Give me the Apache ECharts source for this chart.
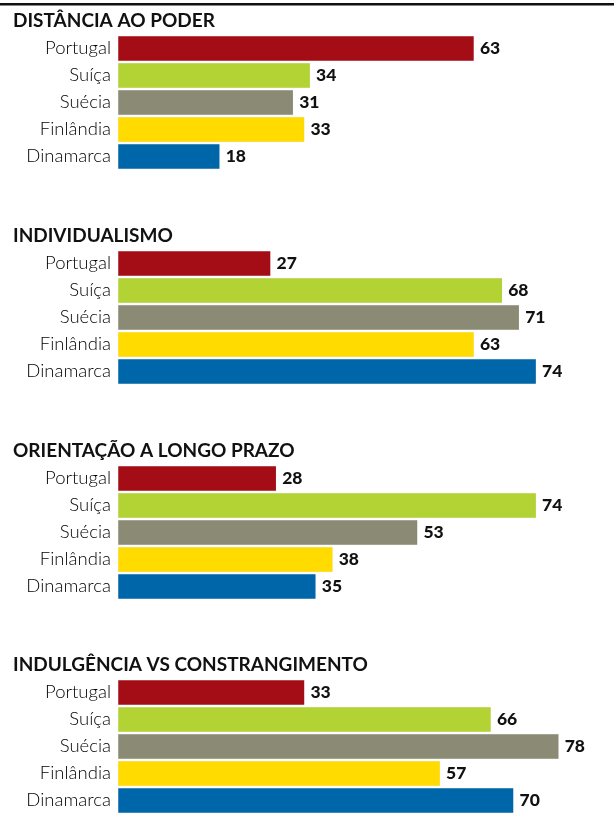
<!DOCTYPE html>
<html>
<head>
<meta charset="utf-8">
<script src="https://cdn.jsdelivr.net/npm/echarts@6/dist/echarts.min.js"></script>
<style>
  html, body { margin: 0; padding: 0; background: #fff; }
  #chart { width: 614px; height: 814px; }
</style>
</head>
<body>
<div id="chart"></div>
<script>
// dados
var paises = ['Portugal', 'Suíça', 'Suécia', 'Finlândia', 'Dinamarca'];
var cores = ['#a50d16', '#b3d335', '#8b8a74', '#ffdb00', '#0066aa'];
var titulos = ['DISTÂNCIA AO PODER', 'INDIVIDUALISMO', 'ORIENTAÇÃO A LONGO PRAZO', 'INDULGÊNCIA VS CONSTRANGIMENTO'];
var distancia = [63, 34, 31, 33, 18];
var individualismo = [27, 68, 71, 63, 74];
var orientacao = [28, 74, 53, 38, 35];
var indulgencia = [33, 66, 78, 57, 70];
var valores = [distancia, individualismo, orientacao, indulgencia];

var topos = [35, 250, 465, 679];

var chart = echarts.init(document.getElementById('chart'));

var grids = [], xAxes = [], yAxes = [], series = [], titles = [];
valores.forEach(function (vals, i) {
  grids.push({ left: 118, width: 452, top: topos[i], height: 135 });
  xAxes.push({
    gridIndex: i, type: 'value', min: 0, max: 80, show: false
  });
  yAxes.push({
    gridIndex: i, type: 'category', data: paises, inverse: true,
    axisLine: { show: false }, axisTick: { show: false }, splitLine: { show: false },
    axisLabel: {
      margin: 7, fontFamily: 'Lato', fontWeight: 300, fontSize: 18.5, color: '#000'
    }
  });
  series.push({
    type: 'bar', xAxisIndex: i, yAxisIndex: i,
    data: vals, barWidth: 25, animation: false,
    itemStyle: {
      color: function (p) { return cores[p.dataIndex]; },
      borderColor: 'rgba(0,0,0,0.06)', borderWidth: 0.5
    },
    label: {
      show: true, position: 'right', distance: 6,
      fontFamily: 'Lato', fontWeight: 900, fontSize: 17.5, color: '#111'
    }
  });
  titles.push({
    text: titulos[i], left: 8, top: topos[i] - 29,
    textStyle: { fontFamily: 'Lato', fontWeight: 'bold', fontSize: 19, color: '#111' }
  });
});

chart.setOption({
  backgroundColor: '#fff',
  title: titles,
  grid: grids,
  xAxis: xAxes,
  yAxis: yAxes,
  series: series,
  graphic: [{
    type: 'rect', left: 0, top: 3,
    shape: { width: 614, height: 2.5 },
    style: { fill: '#111' }
  }]
});
</script>
</body>
</html>
